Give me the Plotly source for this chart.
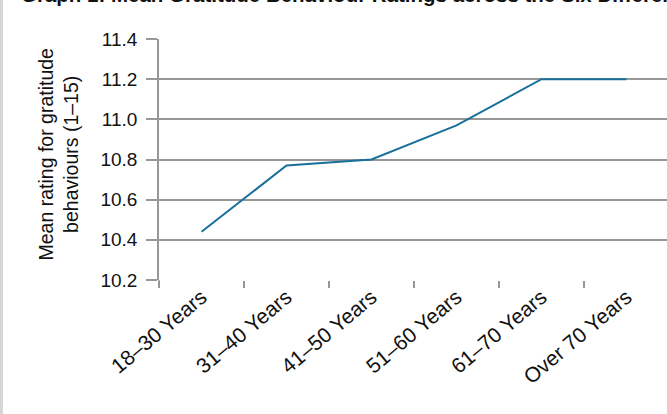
import plotly.graph_objects as go

# Mean gratitude behaviour ratings by age group
age_groups = ["18–30 Years", "31–40 Years", "41–50 Years", "51–60 Years",
              "61–70 Years", "Over 70 Years"]
mean_ratings = [10.44, 10.77, 10.80, 10.97, 11.20, 11.20]
y_ticks = [10.2, 10.4, 10.6, 10.8, 11.0, 11.2, 11.4]

W, H = 667, 414
ML, MR, MT, MB = 159, 0, 39, 134
PW, PH = W - ML - MR, H - MT - MB

FONT = "Liberation Sans, Arial, Helvetica, sans-serif"
GRID = "#979797"
LINE = "#19709a"


def px_x(x):
    return (x - ML) / PW


def px_y(y):
    return 1 - (y - MT) / PH


fig = go.Figure()
fig.add_trace(go.Scatter(
    x=age_groups, y=mean_ratings, mode="lines",
    line=dict(color=LINE, width=2), hoverinfo="x+y", showlegend=False,
))

cat_w = 85.0
fig.update_xaxes(
    type="category", range=[-0.5, -0.5 + PW / cat_w],
    tickson="boundaries", ticks="outside", ticklen=7, tickwidth=1.5,
    tickcolor=GRID, showgrid=False, showline=False, zeroline=False,
    tickangle=-40, tickfont=dict(family=FONT, size=21, color="#111111"),
)
fig.update_yaxes(
    range=[10.2, 11.4], tickvals=y_ticks,
    ticktext=[f"{v:.1f}" for v in y_ticks],
    showgrid=True, gridcolor=GRID, gridwidth=1.5,
    showline=True, linecolor=GRID, linewidth=1.5,
    ticks="outside", ticklen=11, tickwidth=1.5, tickcolor=GRID,
    ticklabelstandoff=5, zeroline=False,
    tickfont=dict(family=FONT, size=19, color="#111111"),
)

annotations = [
    dict(text="Mean rating for gratitude<br>behaviours (1–15)",
         textangle=-90, showarrow=False, xref="paper", yref="paper",
         x=px_x(57.5), y=px_y(155), xanchor="center", yanchor="middle",
         font=dict(family=FONT, size=19.5, color="#111111")),
    dict(text="<b>Graph 1: Mean Gratitude Behaviour Ratings across the Six Different Age Groups</b>",
         showarrow=False, xref="paper", yref="paper",
         x=px_x(19), y=px_y(-5), xanchor="left", yanchor="middle",
         font=dict(family=FONT, size=20.5, color="#111111")),
]

shapes = [
    # thin grey strip along the left edge of the page
    dict(type="rect", xref="paper", yref="paper",
         x0=px_x(0), x1=px_x(3), y0=px_y(H), y1=px_y(0),
         fillcolor="#d6d6d6", line=dict(width=0), layer="below"),
    # y-axis line carried down past the category axis
    dict(type="line", xref="paper", yref="paper",
         x0=0, x1=0, y0=px_y(280), y1=px_y(287),
         line=dict(color=GRID, width=1.5)),
]

fig.update_layout(
    width=W, height=H, autosize=False,
    margin=dict(l=ML, r=MR, t=MT, b=MB, pad=0),
    paper_bgcolor="white", plot_bgcolor="white",
    annotations=annotations, shapes=shapes,
    font=dict(family=FONT),
)

fig.write_html("out.html")
